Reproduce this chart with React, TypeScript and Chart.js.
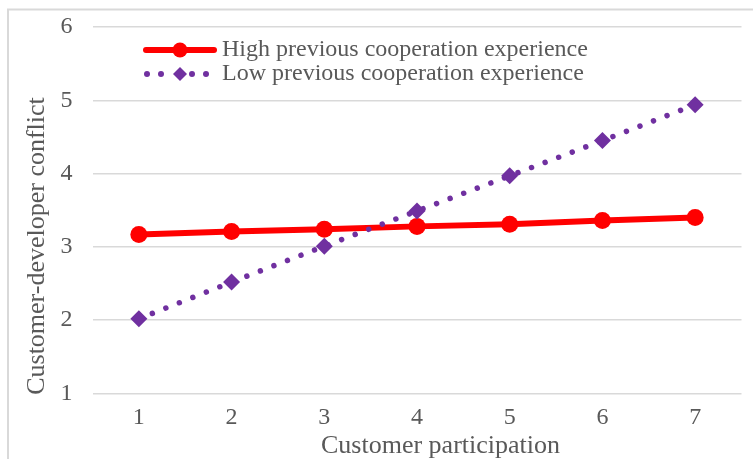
import React, { useEffect, useRef } from "react";
import { Chart, registerables } from "chart.js";

Chart.register(...registerables);

const categories = ["1", "2", "3", "4", "5", "6", "7"];
const highValues = [3.17, 3.21, 3.24, 3.28, 3.31, 3.36, 3.4];
const lowValues = [2.02, 2.52, 3.01, 3.49, 3.97, 4.45, 4.94];
const yTickValues = [1, 2, 3, 4, 5, 6];
const highLabel = "High previous cooperation experience";
const lowLabel = "Low previous cooperation experience";
const xTitle = "Customer participation";
const yTitle = "Customer-developer conflict";

const RED = "#FF0000";
const PURPLE = "#7030A0";
const TEXT = "#595959";
const GRID = "#D9D9D9";
const FONT = "'Liberation Serif', 'Times New Roman', serif";

const decorPlugin = {
  id: "decor",
  beforeDraw(chart: any) {
    const ctx = chart.ctx;
    ctx.save();
    ctx.strokeStyle = GRID;
    ctx.lineWidth = 2;
    ctx.beginPath();
    ctx.moveTo(8, 480);
    ctx.lineTo(8, 9.5);
    ctx.lineTo(780, 9.5);
    ctx.stroke();
    ctx.restore();
  },
  afterDraw(chart: any) {
    const ctx = chart.ctx;
    ctx.save();
    // axis titles
    ctx.fillStyle = TEXT;
    ctx.font = `26px ${FONT}`;
    ctx.textAlign = "center";
    ctx.textBaseline = "alphabetic";
    ctx.fillText(xTitle, 440.5, 453);
    ctx.save();
    ctx.translate(44, 246);
    ctx.rotate(-Math.PI / 2);
    ctx.fillText(yTitle, 0, 0);
    ctx.restore();

    // legend
    ctx.font = `24px ${FONT}`;
    ctx.textAlign = "left";
    ctx.textBaseline = "alphabetic";
    ctx.fillText(highLabel, 222, 56);
    ctx.fillText(lowLabel, 222, 80);

    // high legend symbol
    ctx.strokeStyle = RED;
    ctx.lineWidth = 6;
    ctx.lineCap = "round";
    ctx.beginPath();
    ctx.moveTo(146, 50);
    ctx.lineTo(214, 50);
    ctx.stroke();
    ctx.fillStyle = RED;
    ctx.beginPath();
    ctx.arc(180, 50, 7.5, 0, Math.PI * 2);
    ctx.fill();

    // low legend symbol
    ctx.fillStyle = PURPLE;
    [147, 161, 192, 206].forEach((x) => {
      ctx.beginPath();
      ctx.arc(x, 74, 3, 0, Math.PI * 2);
      ctx.fill();
    });
    ctx.beginPath();
    ctx.moveTo(180, 67);
    ctx.lineTo(187, 74);
    ctx.lineTo(180, 81);
    ctx.lineTo(173, 74);
    ctx.closePath();
    ctx.fill();
    ctx.restore();
  },
};

export default function App() {
  const canvasRef = useRef<HTMLCanvasElement | null>(null);

  useEffect(() => {
    if (!canvasRef.current) return;
    const tickFont = { family: FONT, size: 24 };
    const chart = new Chart(canvasRef.current, {
      type: "line",
      data: {
        labels: categories,
        datasets: [
          {
            label: lowLabel,
            data: lowValues,
            borderColor: PURPLE,
            backgroundColor: PURPLE,
            borderWidth: 5.5,
            borderDash: [0.01, 14.5],
            borderCapStyle: "round",
            pointStyle: "rectRot",
            pointRadius: 8.5,
            pointBorderWidth: 0,
            pointBackgroundColor: PURPLE,
            tension: 0,
          },
          {
            label: highLabel,
            data: highValues,
            borderColor: RED,
            backgroundColor: RED,
            borderWidth: 6,
            pointStyle: "circle",
            pointRadius: 8.5,
            pointBorderWidth: 0,
            pointBackgroundColor: RED,
            tension: 0,
          },
        ],
      },
      options: {
        responsive: true,
        maintainAspectRatio: false,
        animation: false,
        layout: { padding: { left: 0, right: 11.5, top: 27, bottom: 0 } },
        plugins: {
          legend: { display: false },
          tooltip: { enabled: false },
        },
        scales: {
          x: {
            type: "category",
            offset: true,
            grid: { display: false, drawTicks: false },
            border: { display: false },
            ticks: {
              color: TEXT,
              font: tickFont,
              padding: 10,
              maxRotation: 0,
              autoSkip: false,
            },
            afterFit: (s: any) => {
              s.height = 65.5;
              s.paddingLeft = 0;
              s.paddingRight = 0;
            },
          },
          y: {
            min: 1,
            max: 6,
            grid: { color: GRID, lineWidth: 1.5, drawTicks: false },
            border: { display: false },
            ticks: { color: TEXT, font: tickFont, padding: 20, stepSize: 1 },
            afterBuildTicks: (s: any) => {
              s.ticks = yTickValues.map((v) => ({ value: v }));
            },
            afterFit: (s: any) => {
              s.width = 92.5;
              s.paddingTop = 0;
              s.paddingBottom = 0;
            },
          },
        },
      },
      plugins: [decorPlugin],
    } as any);
    return () => chart.destroy();
  }, []);

  return (
    <div
      style={{
        position: "fixed",
        left: 0,
        top: 0,
        width: 753,
        height: 459,
        background: "#ffffff",
      }}
    >
      <canvas ref={canvasRef} />
    </div>
  );
}
